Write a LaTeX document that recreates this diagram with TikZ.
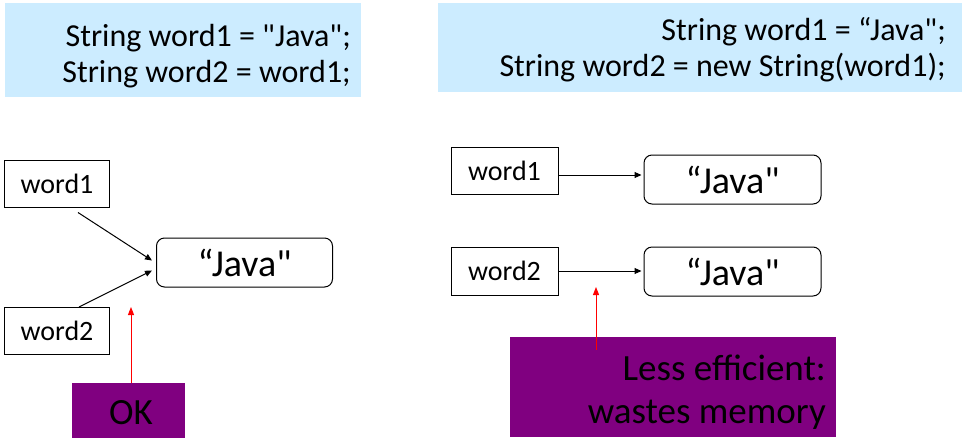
\documentclass[tikz,border=0pt]{standalone}
\usepackage{fontspec}
\setmainfont{Carlito}[Ligatures=TeXOff]
\usetikzlibrary{arrows.meta}
\definecolor{codebg}{RGB}{204,236,255}
\definecolor{notebg}{RGB}{128,0,128}
\begin{document}
\begin{tikzpicture}[x=1pt,y=-1pt,
  codebox/.style={fill=codebg,draw=none,inner sep=0pt},
  codetext/.style={anchor=east,align=right,inner sep=0pt,font=\fontsize{32}{36}\selectfont},
  refbox/.style={draw=black,line width=1pt,fill=white,inner sep=0pt,font=\fontsize{28}{30}\selectfont},
  strbox/.style={draw=black,line width=1pt,rounded corners=8pt,fill=white,inner sep=0pt,font=\fontsize{38}{40}\selectfont},
  notebox/.style={fill=notebg,draw=none,inner sep=0pt},
  notetext/.style={anchor=east,align=right,inner sep=0pt,text=black,font=\fontsize{37}{43}\selectfont},
  arr/.style={draw=black,line width=1pt,-{Triangle[length=7pt,width=6pt]}},
  redarr/.style={draw=red,line width=1pt,-{Triangle[length=8pt,width=6pt]}}
]
\useasboundingbox (0,0) rectangle (975,440);

% top code boxes
\node[codebox,minimum width=356pt,minimum height=94pt] (c1) at (183,50) {};
\node[codetext] (c1t) at (351,56) {String word1 = "Java";\\String word2 = word1;};
\node[codebox,minimum width=524pt,minimum height=89pt] (c2) at (700,47.5) {};
\node[codetext] (c2t) at (946,50) {String word1 = “Java";\\String word2 = new String(word1);};

% left diagram
\node[refbox,minimum width=105pt,minimum height=47pt] (w1) at (57,183.5) {word1};
\node[refbox,minimum width=105pt,minimum height=47pt] (w2) at (57,331) {word2};
\node[strbox,minimum width=176pt,minimum height=49pt] (j) at (244.5,262.5) {“Java"};
\draw[arr] ([xshift=21pt,yshift=-5pt]w1.south) -- ([xshift=-4pt,yshift=2pt]j.west);
\draw[arr] ([xshift=22pt]w2.north) -- ([xshift=-4pt,yshift=-8pt]j.west);
\node[notebox,minimum width=113pt,minimum height=55pt] (ok) at (128.5,410.5) {};
\node[inner sep=0pt,text=black,font=\fontsize{37}{40}\selectfont] (okt) at (131,413) {OK};
\coordinate (okend) at (131,307);
\draw[redarr] ([xshift=2.5pt]ok.north) -- (okend);

% right diagram
\node[refbox,minimum width=107pt,minimum height=47pt] (r1) at (504.5,170.5) {word1};
\node[strbox,minimum width=177pt,minimum height=49pt] (s1) at (732.5,179.5) {“Java"};
\draw[arr] ([yshift=-4.5pt]r1.east) -- ([xshift=-2pt,yshift=4.5pt]s1.west);
\node[refbox,minimum width=107pt,minimum height=48pt] (r2) at (504.5,271) {word2};
\node[strbox,minimum width=177pt,minimum height=49pt] (s2) at (732.5,271.5) {“Java"};
\draw[arr] ([yshift=0pt]r2.east) -- ([xshift=-2pt,yshift=0.5pt]s2.west);
\node[notebox,minimum width=326pt,minimum height=100pt] (le) at (673,387) {};
\node[notetext] (let) at (826,392) {Less efficient:\\wastes memory};
\coordinate (leend) at (596,287);
\draw[redarr] ([xshift=-77pt,yshift=-13pt]le.north) -- (leend);
\end{tikzpicture}
\end{document}
